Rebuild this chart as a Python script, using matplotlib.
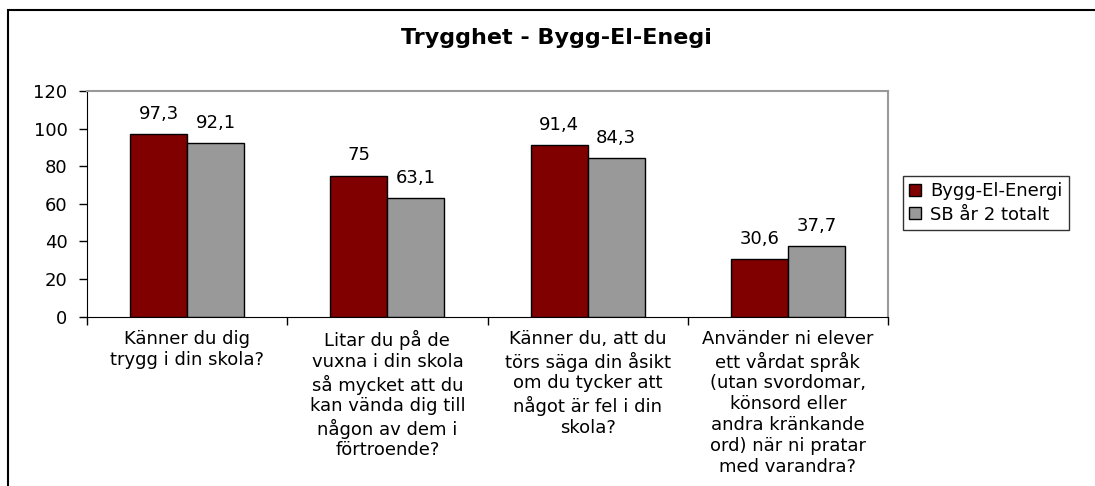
import numpy as np
import matplotlib
matplotlib.use("Agg")
import matplotlib.pyplot as plt
from matplotlib.patches import Rectangle

plt.rcParams['font.family'] = ['DejaVu Sans']

# Data
categories = [
    "Känner du dig\ntrygg i din skola?",
    "Litar du på de\nvuxna i din skola\nså mycket att du\nkan vända dig till\nnågon av dem i\nförtroende?",
    "Känner du, att du\ntörs säga din åsikt\nom du tycker att\nnågot är fel i din\nskola?",
    "Använder ni elever\nett vårdat språk\n(utan svordomar,\nkönsord eller\nandra kränkande\nord) när ni pratar\nmed varandra?",
]
bygg = [97.3, 75, 91.4, 30.6]
sb_total = [92.1, 63.1, 84.3, 37.7]
series_names = ["Bygg-El-Energi", "SB år 2 totalt"]
yticks = [0, 20, 40, 60, 80, 100, 120]

fig = plt.figure(figsize=(10.95, 4.86), dpi=100)
W, H = 1095, 486
ax = fig.add_axes([87 / W, 1 - 316.5 / H, (888 - 87) / W, (316.5 - 91) / H])

x = np.arange(len(categories))
w = 0.285
b1 = ax.bar(x - w / 2, bygg, w, color="#800000", edgecolor="black", linewidth=1, label=series_names[0])
b2 = ax.bar(x + w / 2, sb_total, w, color="#999999", edgecolor="black", linewidth=1, label=series_names[1])

def fmt(v):
    return f"{v:g}".replace(".", ",")

for bars, vals in ((b1, bygg), (b2, sb_total)):
    for rect, v in zip(bars, vals):
        ax.annotate(fmt(v), (rect.get_x() + rect.get_width() / 2, v),
                    xytext=(0, 8), textcoords="offset points",
                    ha="center", va="bottom", fontsize=13)

ax.set_xlim(-0.5, len(categories) - 0.5)
ax.set_ylim(0, 120)
ax.set_yticks(yticks)
ax.set_yticklabels([str(t) for t in yticks], fontsize=13)
ax.tick_params(axis="y", direction="out", length=6, width=1, pad=8)

# category ticks at boundaries, labels centred
ax.set_xticks(np.arange(len(categories) + 1) - 0.5)
ax.set_xticklabels([])
ax.tick_params(axis="x", direction="out", length=6, width=1)
for i, c in enumerate(categories):
    ax.annotate(c, (i, 0), xytext=(0, -10), textcoords="offset points",
                ha="center", va="top", fontsize=13, linespacing=1.2)

ax.spines["left"].set_color("black")
ax.spines["bottom"].set_color("black")
ax.spines["top"].set_color("#999999")
ax.spines["right"].set_color("#999999")
ax.spines["top"].set_linewidth(1.5)
ax.spines["right"].set_linewidth(1.5)

fig.text(556 / W, 1 - 38 / H, "Trygghet - Bygg-El-Enegi",
         ha="center", va="center", fontsize=16, fontweight="bold")

leg = fig.legend(loc="upper left", bbox_to_anchor=(903 / W, 1 - 176 / H),
                 fontsize=13, frameon=True, fancybox=False, edgecolor="black",
                 handlelength=0.65, handleheight=0.65, handletextpad=0.5,
                 borderpad=0.35, labelspacing=0.3, borderaxespad=0)
leg.get_frame().set_linewidth(1)

# outer chart border
fig.patches.append(Rectangle((8 / W, -0.1), 1.2, 1 - 9.5 / H + 0.1,
                             transform=fig.transFigure, fill=False,
                             edgecolor="black", linewidth=1.5))

fig.savefig("out.png", dpi=100)
